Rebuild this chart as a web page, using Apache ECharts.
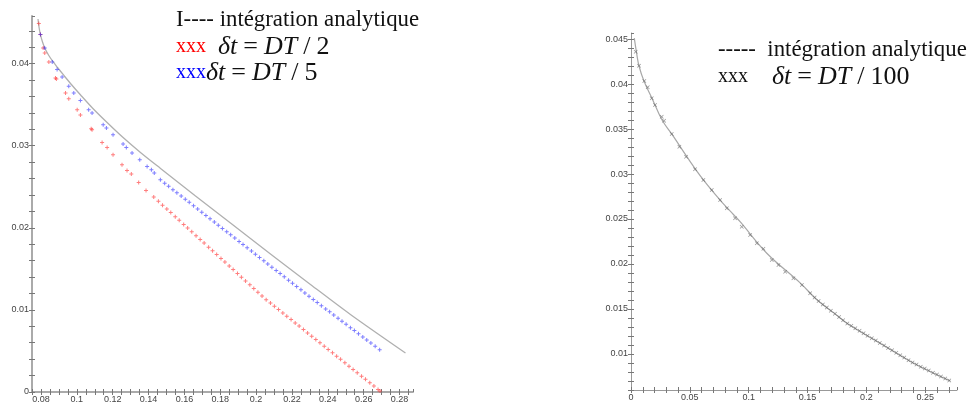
<!DOCTYPE html>
<html>
<head>
<meta charset="utf-8">
<script src="https://cdn.jsdelivr.net/npm/echarts@6/dist/echarts.min.js"></script>
<style>html,body{margin:0;padding:0;background:#fff;}#c{width:968px;height:404px;}</style>
</head>
<body>
<div id="c"></div>
<script>
// ---------- data ----------
// left panel: analytic solution
const leftAnalyticX = [0.07835,0.0789,0.07974,0.08086,0.08225,0.0842,0.08643,0.08922,0.09257,0.09647,0.1021,0.1087,0.1166,0.1255,0.1355,0.1467,0.1662,0.1857,0.2080,0.2303,0.2526,0.2833];
const leftAnalyticY = [0.04544,0.04446,0.04349,0.04264,0.04184,0.04105,0.04032,0.03953,0.03862,0.03758,0.03618,0.03460,0.03289,0.03106,0.02918,0.02723,0.02388,0.02059,0.01681,0.01310,0.00944,0.00475];
// left panel: dt = DT/2 (red)
const redX = [0.0788,0.0797,0.0812,0.0821,0.0844,0.0881,0.0886,0.0937,0.0955,0.1002,0.1020,0.1080,0.1085,0.1141,0.1169,0.1202,0.1252,0.1280,0.1304,0.1345,0.1386,0.1429,
  0.1455,0.1478,0.1502,0.1524,0.1549,0.1571,0.1596,0.1618,0.1641,0.1665,0.1688,0.1710,0.1735,0.1757,0.1780,0.1804,0.1826,0.1850,0.1872,0.1896,0.1918,0.1941,0.1965,0.1987,0.2010,0.2033,
  0.2056,0.2080,0.2102,0.2125,0.2149,0.2171,0.2195,0.2218,0.2240,0.2264,0.2287,0.2310,0.2333,0.2356,0.2380,0.2402,0.2426,0.2449,0.2471,0.2495,0.2518,0.2541,0.2564,0.2588,0.2610,0.2634,0.2657,0.2680,0.2691];
const redY = [0.04488,0.04354,0.04191,0.04130,0.04021,0.03826,0.03813,0.03643,0.03573,0.03439,0.03374,0.03207,0.03195,0.03040,0.02979,0.02890,0.02768,0.02699,0.02655,0.02552,0.02455,0.02374,
  0.02322,0.02276,0.02228,0.02185,0.02135,0.02091,0.02041,0.01997,0.01951,0.01903,0.01858,0.01814,0.01764,0.01720,0.01674,0.01626,0.01582,0.01535,0.01491,0.01443,0.01399,0.01353,0.01305,0.01261,0.01216,0.01170,
  0.01125,0.01083,0.01045,0.01004,0.00962,0.00924,0.00882,0.00841,0.00803,0.00761,0.00720,0.00680,0.00640,0.00599,0.00557,0.00519,0.00477,0.00436,0.00398,0.00356,0.00315,0.00275,0.00235,0.00193,0.00154,0.00112,0.00072,0.00031,0.00012];
// left panel: dt = DT/5 (blue)
const blueX = [0.0797,0.0821,0.0863,0.0890,0.0918,0.0955,0.0983,0.1020,0.1066,0.1085,0.1147,0.1165,0.1202,0.1258,0.1276,0.1308,0.1351,0.1392,0.1416,0.1432,0.1466,
  0.1490,0.1512,0.1536,0.1558,0.1582,0.1605,0.1627,0.1651,0.1674,0.1697,0.1720,0.1743,0.1767,0.1789,0.1812,0.1836,0.1858,0.1881,0.1905,0.1927,0.1950,0.1974,0.1996,0.2019,0.2043,0.2065,0.2088,0.2112,0.2134,0.2157,0.2181,0.2203,0.2226,0.2250,0.2272,0.2295,
  0.2319,0.2341,0.2364,0.2388,0.2410,0.2433,0.2457,0.2479,0.2502,0.2526,0.2548,0.2571,0.2595,0.2617,0.2640,0.2664,0.2689];
const blueY = [0.04354,0.04191,0.04021,0.03927,0.03838,0.03723,0.03643,0.03552,0.03439,0.03399,0.03256,0.03216,0.03134,0.03021,0.02979,0.02911,0.02829,0.02748,0.02707,0.02667,0.02585,
  0.02544,0.02506,0.02465,0.02428,0.02387,0.02347,0.02310,0.02268,0.02229,0.02190,0.02150,0.02111,0.02070,0.02032,0.01993,0.01952,0.01914,0.01875,0.01834,0.01796,0.01757,0.01716,0.01678,0.01639,0.01598,0.01560,0.01521,0.01480,0.01442,0.01403,0.01362,0.01324,0.01285,0.01244,0.01206,0.01167,
  0.01126,0.01090,0.01052,0.01012,0.00976,0.00938,0.00898,0.00862,0.00824,0.00784,0.00748,0.00710,0.00670,0.00634,0.00596,0.00557,0.00515];
// right panel: analytic solution
const rightAnalyticX = [0.0028,0.0048,0.0068,0.0111,0.0179,0.0264,0.0349,0.0476,0.0612,0.0757,0.0870,0.0927,0.1154,0.1437,0.1582,0.1720,0.1837,0.2117,0.2398,0.2713];
const rightAnalyticY = [0.0451,0.0434,0.0420,0.0403,0.0384,0.0360,0.0344,0.0319,0.0294,0.0271,0.0255,0.0247,0.0212,0.0179,0.0160,0.0146,0.0134,0.0112,0.0090,0.0070];
// right panel: dt = DT/100
const rightX = [0.0040,0.0068,0.0113,0.0142,0.0176,0.0204,0.0261,0.0281,0.0346,0.0411,0.0468,0.0544,0.0615,0.0686,0.0757,0.0814,0.0884,0.0941,0.1012,0.1069,0.1125,0.1196,0.1253,0.1310,0.1380,0.1452,0.1522,
  0.1560,0.1594,0.1630,0.1664,0.1698,0.1733,0.1768,0.1802,0.1838,0.1872,0.1906,0.1942,0.1976,0.2010,0.2046,0.2080,0.2114,0.2150,0.2184,0.2218,0.2254,0.2288,0.2322,0.2358,0.2392,0.2426,0.2462,0.2496,0.2530,0.2566,0.2600,0.2634,0.2670,0.2704];
const rightY = [0.04359,0.04203,0.04033,0.03963,0.03841,0.03767,0.03637,0.03592,0.03444,0.03303,0.03192,0.03052,0.02933,0.02822,0.02711,0.02619,0.02508,0.02414,0.02322,0.02230,0.02170,0.02044,0.01989,0.01914,0.01841,0.01767,0.01674,
  0.01627,0.01588,0.01551,0.01516,0.01482,0.01446,0.01410,0.01376,0.01339,0.01313,0.01286,0.01258,0.01231,0.01204,0.01176,0.01149,0.01122,0.01094,0.01068,0.01041,0.01013,0.00986,0.00960,0.00931,0.00905,0.00882,0.00859,0.00838,0.00816,0.00793,0.00772,0.00750,0.00727,0.00706];
// tick labels
const leftXTicks = [0.08,0.1,0.12,0.14,0.16,0.18,0.2,0.22,0.24,0.26,0.28];
const leftYTicks = [0,0.01,0.02,0.03,0.04];
const rightXTicks = [0,0.05,0.1,0.15,0.2,0.25];
const rightYTicks = [0.01,0.015,0.02,0.025,0.03,0.035,0.04,0.045];

// ---------- helpers ----------
const zip = (xs, ys) => xs.map((x, i) => [x, ys[i]]);
const only = list => v => list.some(t => Math.abs(t - v) < 1e-7) ? String(+v.toFixed(4)) : '';
const labelStyle = { fontFamily: 'Liberation Sans', fontSize: 9, color: '#444', margin: 3 };

function mainAxis(grid, min, max, interval, ticks, lineColor, lineWidth) {
  return { type: 'value', gridIndex: grid, min, max, interval,
    axisLine: { show: true, onZero: false, lineStyle: { color: lineColor, width: lineWidth } },
    axisTick: { show: true, length: 3, lineStyle: { color: '#777' } },
    axisLabel: Object.assign({ formatter: only(ticks), showMinLabel: true, showMaxLabel: false }, labelStyle),
    splitLine: { show: false } };
}
function overlayAxis(grid, min, max, interval) {
  return { type: 'value', gridIndex: grid, min, max, interval,
    axisLine: { show: false, onZero: false },
    axisTick: { show: true, inside: true, length: 3, lineStyle: { color: '#777' } },
    axisLabel: { show: false }, splitLine: { show: false } };
}

const plus = 'path://M3,0H5V3H8V5H5V8H3V5H0V3H3Z';
const cross = 'path://M0,1L1,0L4,3L7,0L8,1L5,4L8,7L7,8L4,5L1,8L0,7L3,4Z';
const serif = '"Liberation Serif"';
const mathRich = {
  i: { fill: '#111', font: 'italic 26px ' + serif },
  o: { fill: '#111', font: '26px ' + serif }
};

const chart = echarts.init(document.getElementById('c'), null, { renderer: 'canvas' });
chart.setOption({
  animation: false,
  backgroundColor: '#fff',
  grid: [
    { left: 32, top: 16, width: 381, height: 376 },
    { left: 631, top: 33, width: 326, height: 357 }
  ],
  xAxis: [
    Object.assign(mainAxis(0, 0.075, 0.2875, 0.005, leftXTicks, '#aaa', 2), { position: 'bottom' }),
    Object.assign(overlayAxis(0, 0.075, 0.2875, 0.005), { position: 'bottom' }),
    Object.assign(mainAxis(1, 0, 0.277, 0.01, rightXTicks, '#999', 1), { position: 'bottom' }),
    Object.assign(overlayAxis(1, 0, 0.277, 0.01), { position: 'bottom' })
  ],
  yAxis: [
    Object.assign(mainAxis(0, 0, 0.0458, 0.002, leftYTicks, '#aaa', 2), { position: 'left' }),
    Object.assign(overlayAxis(0, 0, 0.0458, 0.002), { position: 'left' }),
    Object.assign(mainAxis(1, 0.006, 0.04567, 0.001, rightYTicks, '#999', 1), { position: 'left' }),
    Object.assign(overlayAxis(1, 0.006, 0.04567, 0.001), { position: 'left' })
  ],
  series: [
    { type: 'line', xAxisIndex: 0, yAxisIndex: 0, data: zip(leftAnalyticX, leftAnalyticY), smooth: 0.3,
      showSymbol: false, lineStyle: { color: '#b0b0b0', width: 1.3 }, z: 1 },
    { type: 'scatter', xAxisIndex: 0, yAxisIndex: 0, data: zip(redX, redY), symbol: plus, symbolSize: 4,
      itemStyle: { color: 'rgba(255,40,40,0.75)' }, z: 2 },
    { type: 'scatter', xAxisIndex: 0, yAxisIndex: 0, data: zip(blueX, blueY), symbol: plus, symbolSize: 4,
      itemStyle: { color: 'rgba(40,40,255,0.75)' }, z: 3 },
    { type: 'line', xAxisIndex: 2, yAxisIndex: 2, data: zip(rightAnalyticX, rightAnalyticY), smooth: 0.4,
      showSymbol: false, lineStyle: { color: '#a8a8a8', width: 1.2 }, z: 1 },
    { type: 'scatter', xAxisIndex: 2, yAxisIndex: 2, data: zip(rightX, rightY), symbol: cross, symbolSize: 4,
      itemStyle: { color: 'rgba(90,90,90,0.8)' }, z: 2 }
  ],
  graphic: [
    { type: 'text', x: 176, y: 20, style: { text: 'I---- intégration analytique', font: '22.8px ' + serif, fill: '#111', verticalAlign: 'middle' } },
    { type: 'text', x: 176, y: 47, style: { text: '{r|xxx}  {i|δt} {o|=} {i|DT} {o|/} {o|2}', font: '24px ' + serif, verticalAlign: 'middle',
      rich: Object.assign({ r: { fill: '#ff0000', font: '20px ' + serif } }, mathRich) } },
    { type: 'text', x: 176, y: 73, style: { text: '{b|xxx}{i|δt} {o|=} {i|DT} {o|/} {o|5}', font: '24px ' + serif, verticalAlign: 'middle',
      rich: Object.assign({ b: { fill: '#0000ff', font: '20px ' + serif } }, mathRich) } },
    { type: 'text', x: 718, y: 50, style: { text: '-----  intégration analytique', font: '22.8px ' + serif, fill: '#111', verticalAlign: 'middle' } },
    { type: 'text', x: 718, y: 77, style: { text: '{k|xxx}    {i|δt} {o|=} {i|DT} {o|/} {o|100}', font: '24px ' + serif, verticalAlign: 'middle',
      rich: Object.assign({ k: { fill: '#111', font: '20px ' + serif } }, mathRich) } }
  ]
});
</script>
</body>
</html>
